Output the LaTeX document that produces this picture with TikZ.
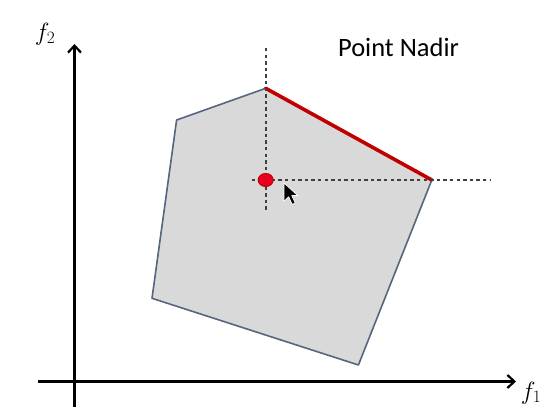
\documentclass[tikz,border=0pt]{standalone}
\usepackage{fontspec}
\newfontfamily\calib{Carlito}
\usetikzlibrary{arrows.meta,shapes.geometric}
\definecolor{polyfill}{HTML}{D9D9D9}
\definecolor{polyedge}{HTML}{56667E}
\definecolor{nadirred}{HTML}{C00000}
\definecolor{dotred}{HTML}{E8001C}
\tikzset{
  axis/.style={line width=2.6pt, -{Straight Barb[length=7pt,width=13pt,line width=2.2pt]}},
  guide/.style={line width=2pt, draw=black!75, dash pattern=on 3.4pt off 3.2pt},
  axlabel/.style={inner sep=0pt, font=\fontsize{26}{30}\selectfont},
}
\begin{document}
\begin{tikzpicture}[x=1pt,y=-1pt]
\useasboundingbox (0,0) rectangle (548,407);
\fill[white] (0,0) rectangle (548,407);
% polygon vertices
\coordinate (A) at (265.7,88.3);
\coordinate (B) at (431.8,180);
\coordinate (C) at (358.4,365);
\coordinate (D) at (152,298.3);
\coordinate (E) at (176.6,120);
\filldraw[fill=polyfill, draw=polyedge, line width=1.6pt, line join=round] (A) -- (B) -- (C) -- (D) -- (E) -- cycle;
\draw[nadirred, line width=3.6pt, line cap=round] (A) -- (B);
% guides
\coordinate (vtop) at (265.7,48);
\coordinate (vbot) at (265.7,212);
\coordinate (hl) at (252,180);
\coordinate (hr) at (491,180);
\draw[guide] (vtop) -- (vbot);
\draw[guide] (hl) -- (hr);
% nadir point
\node[ellipse, fill=dotred, draw=nadirred, line width=1pt, minimum width=15pt, minimum height=13pt, inner sep=0pt] (N) at (265.7,180) {};
% axes
\coordinate (xs) at (38,381.5);
\coordinate (xe) at (516,381.5);
\coordinate (ys) at (74.5,407);
\coordinate (ye) at (74.5,44);
\draw[axis] (xs) -- (xe);
\draw[axis] (ys) -- (ye);
\node[axlabel] (f1) at (531,393) {$f_1$};
\node[axlabel] (f2) at (45,34) {$f_2$};
\node[inner sep=0pt, font=\calib\fontsize{26.5}{30}\selectfont] (title) at (398.5,47.5) {Point Nadir};
% mouse cursor
\begin{scope}[shift={(284,183)}, scale=1.3]
\filldraw[fill=black, draw=white, line width=0.7pt, line join=round]
  (0,0) -- (0,14) -- (3.6,10.6) -- (6.3,16.5) -- (8.6,15.4) -- (6,9.6) -- (10.5,9.6) -- cycle;
\end{scope}
\end{tikzpicture}
\end{document}
